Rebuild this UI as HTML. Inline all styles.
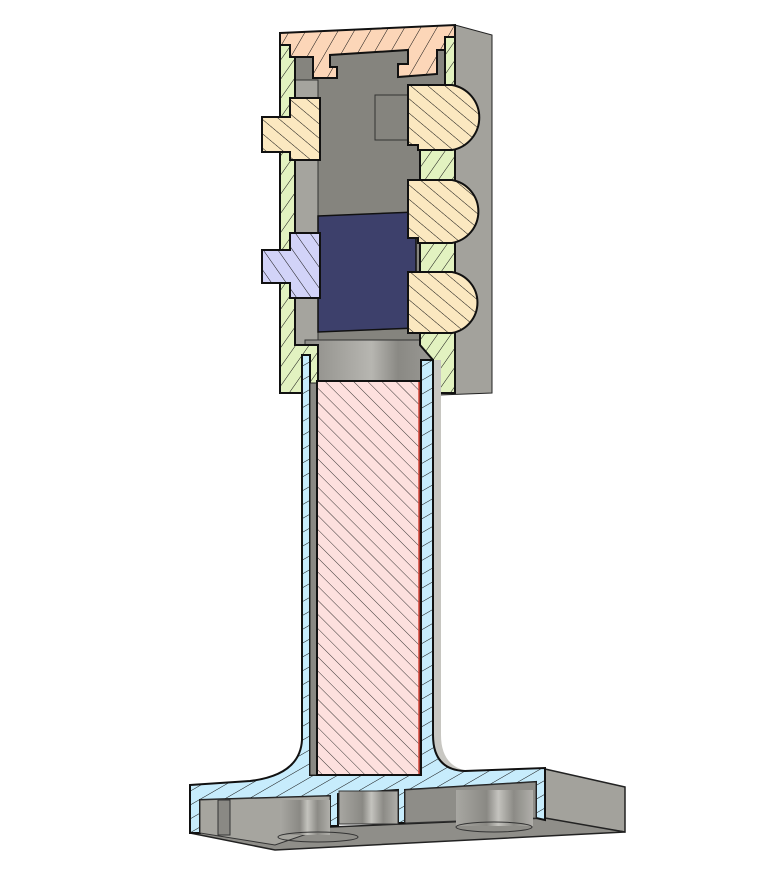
<!DOCTYPE html>
<html><head><meta charset="utf-8">
<style>html,body{margin:0;padding:0;background:#fff;width:774px;height:871px;overflow:hidden}</style>
</head><body>
<svg width="774" height="871" viewBox="0 0 774 871" xmlns="http://www.w3.org/2000/svg">
<defs>
<pattern id="hOr" width="14" height="14" patternUnits="userSpaceOnUse" patternTransform="rotate(30)"><rect width="14" height="14" fill="#fcd6b8"/><line x1="0" y1="0" x2="0" y2="14" stroke="#111" stroke-width="1"/></pattern>
<pattern id="hGr" width="11" height="11" patternUnits="userSpaceOnUse" patternTransform="rotate(35)"><rect width="11" height="11" fill="#e2f2c0"/><line x1="0" y1="0" x2="0" y2="11" stroke="#111" stroke-width="1"/></pattern>
<pattern id="hCr" width="11" height="11" patternUnits="userSpaceOnUse" patternTransform="rotate(-50)"><rect width="11" height="11" fill="#fbe8c0"/><line x1="0" y1="0" x2="0" y2="11" stroke="#111" stroke-width="1"/></pattern>
<pattern id="hBl" width="12" height="12" patternUnits="userSpaceOnUse" patternTransform="rotate(-35)"><rect width="12" height="12" fill="#d2d3f8"/><line x1="0" y1="0" x2="0" y2="12" stroke="#111" stroke-width="1"/></pattern>
<pattern id="hCy" width="12" height="12" patternUnits="userSpaceOnUse" patternTransform="rotate(60)"><rect width="12" height="12" fill="#c7ecfc"/><line x1="0" y1="0" x2="0" y2="12" stroke="#111" stroke-width="1"/></pattern>
<pattern id="hPk" width="10" height="10" patternUnits="userSpaceOnUse" patternTransform="rotate(-45)"><rect width="10" height="10" fill="#fde0de"/><line x1="0" y1="0" x2="0" y2="10" stroke="#222" stroke-width="0.9"/></pattern>
<linearGradient id="gStem" x1="0" x2="1"><stop offset="0" stop-color="#8e8d88"/><stop offset="0.5" stop-color="#b7b6b1"/><stop offset="0.7" stop-color="#8a8984"/><stop offset="1" stop-color="#9c9b96"/></linearGradient>
<linearGradient id="gCyl" x1="0" x2="1"><stop offset="0" stop-color="#a8a7a2"/><stop offset="0.4" stop-color="#8a8984"/><stop offset="0.55" stop-color="#c4c3be"/><stop offset="0.75" stop-color="#8c8b86"/><stop offset="1" stop-color="#b0afaa"/></linearGradient>
</defs>

<polygon points="455,25 492,35 492,393 440,395 440,380 455,380" fill="#a3a29c" stroke="#222" stroke-width="1"/>
<rect x="294" y="45" width="152" height="305" fill="#85847e"/>
<rect x="294" y="80" width="24" height="270" fill="#a5a49e" stroke="#333" stroke-width="1"/>
<rect x="375" y="95" width="33" height="45" fill="#85847e" stroke="#333" stroke-width="1"/>
<rect x="305" y="340" width="133" height="45" fill="url(#gStem)" stroke="#333" stroke-width="1"/>
<polygon points="318,216 416,212 416,328 318,332" fill="#3d406b" stroke="#111" stroke-width="1.5"/>

<polygon points="280,45 295,45 295,345 318,345 318,393 280,393" fill="url(#hGr)" stroke="#111" stroke-width="2"/>
<polygon points="445,37 455,37 455,393 433,393 433,360 420,345 420,85 445,85" fill="url(#hGr)" stroke="#111" stroke-width="2"/>
<polygon points="280,33 455,25 455,37 445,37 445,50 437,50 437,74 398,77 398,64 408,64 408,50 330,55 330,67 337,67 337,78 313,78 313,57 290,57 290,45 280,45" fill="url(#hOr)" stroke="#111" stroke-width="2"/>

<path d="M408,85 L452,85 A33,33 0 0 1 452,150 L418,150 L418,145 L408,145 Z" fill="url(#hCr)" stroke="#111" stroke-width="2"/>
<path d="M408,180 L452,180 A32,32 0 0 1 452,243 L418,243 L418,238 L408,238 Z" fill="url(#hCr)" stroke="#111" stroke-width="2"/>
<path d="M408,272 L452,272 A31,31 0 0 1 452,333 L408,333 Z" fill="url(#hCr)" stroke="#111" stroke-width="2"/>
<polygon points="290,98 320,98 320,160 290,160 290,152 262,152 262,117 290,117" fill="url(#hCr)" stroke="#111" stroke-width="2"/>
<polygon points="290,233 320,233 320,298 290,298 290,283 262,283 262,250 290,250" fill="url(#hBl)" stroke="#111" stroke-width="2"/>

<path d="M433,360 L441,360 L441,735 Q441,770 475,772 L465,771 Q433,770 433,735 Z" fill="#c8c7c2"/>
<polygon points="545,769 625,787 625,832 545,820" fill="#a3a29c" stroke="#222" stroke-width="1.5"/>
<polygon points="190,833 545,818 625,832 275,850" fill="#8f8e89" stroke="#222" stroke-width="1.5"/>
<path d="M190,785 L250,781 Q300,775 302,740 L302,355 L310,355 L310,775 L421,775 L421,360 L433,360 L433,735 Q433,770 465,771 L545,768 L545,820 L536,818 L536,782 L405,790 L405,823 L398,823 L398,790 L338,794 L338,826 L330,826 L330,796 L200,800 L200,833 L190,833 Z" fill="url(#hCy)" stroke="#111" stroke-width="2"/>
<polygon points="200,800 330,796 330,826 275,845 200,833" fill="#a6a59f" stroke="#333" stroke-width="1"/>
<rect x="280" y="800" width="50" height="35" fill="url(#gCyl)"/>
<ellipse cx="318" cy="837" rx="40" ry="5" fill="none" stroke="#333" stroke-width="1"/>
<rect x="218" y="800" width="12" height="35" fill="#8a8984" stroke="#333" stroke-width="1"/>
<rect x="339" y="791" width="59" height="33" fill="url(#gCyl)" stroke="#333" stroke-width="1"/>
<polygon points="405,790 536,782 536,818 405,823" fill="#8e8d88" stroke="#333" stroke-width="1"/>
<rect x="456" y="790" width="77" height="36" fill="url(#gCyl)"/>
<ellipse cx="494" cy="827" rx="38" ry="5" fill="none" stroke="#333" stroke-width="1"/>
<rect x="310" y="383" width="7" height="392" fill="#8a8984" stroke="#222" stroke-width="1"/>
<rect x="317" y="381" width="103" height="394" fill="url(#hPk)" stroke="#111" stroke-width="2"/>
<line x1="419" y1="382" x2="419" y2="774" stroke="#d9473a" stroke-width="1.5"/>
</svg>
</body></html>
